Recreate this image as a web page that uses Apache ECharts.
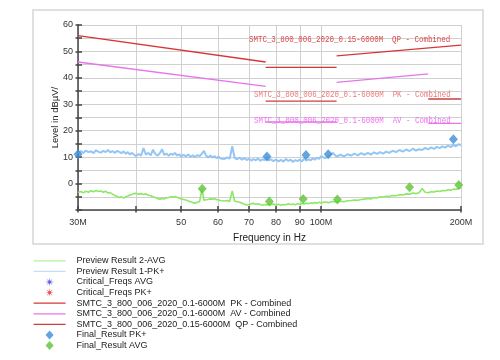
<!DOCTYPE html>
<html><head><meta charset="utf-8">
<script src="https://cdn.jsdelivr.net/npm/echarts@6/dist/echarts.min.js"></script>
<style>html,body{margin:0;padding:0;background:#fff}#c{width:500px;height:360px}</style>
</head><body><div id="c"></div>
<script>
// Sampling frequencies (MHz) of the preview scans
const freqs = [
30,30.4,30.8,31.2,31.6,32,32.4,32.8,33.2,33.6,34,34.4,34.8,35.2,35.6,36,36.4,36.8,37.2,37.6,38,38.4,38.8,39.2,39.6,
40,40.5,41,41.5,42,42.5,43,43.5,44,44.5,45,45.5,46,46.5,47,47.5,48,48.5,49,49.5,
50,50.6,51.2,51.8,52.4,53,53.6,54.2,54.8,55.4,56,56.6,57.2,57.8,58.4,59,59.6,60.2,60.8,61.4,
62,62.8,63.6,64.4,65.2,66,66.8,67.6,68.4,69.2,70,70.8,71.6,72.4,73.2,74,74.8,75.6,76.4,77.2,
78,79,80,81,82,83,84,85,86,87,88,89,90,91,92,93,94,95,96,97,98,99,
100,102,104,106,108,110,112,114,116,118,120,122,124,126,128,130,132,134,136,138,
140,142.5,145,147.5,150,152.5,155,157.5,160,162.5,165,167.5,170,172.5,175,177.5,180,182.5,185,187.5,190,192.5,195,197.5,200
];
// Preview Result 1-PK+ (dBµV/m)
const previewPK = [
11.4,12.3,11.6,12.5,11.9,12.2,11.5,12.6,12.0,11.7,12.4,11.9,12.7,11.8,12.3,11.6,12.4,12.0,11.5,12.2,11.3,11.9,11.0,11.6,10.9,
10.4,11.2,10.6,13.4,10.9,11.6,10.7,12.8,11.2,10.6,11.5,13.0,10.8,11.4,10.5,11.3,10.9,11.6,10.6,11.1,
10.2,10.9,10.3,11.0,10.1,10.7,10.0,10.8,10.4,11.3,12.4,10.5,9.9,10.6,9.8,10.4,9.6,10.2,9.5,10.1,
9.3,9.9,9.4,14.1,9.6,9.2,9.8,9.0,9.6,8.9,9.4,8.7,9.3,8.8,9.5,8.6,9.2,8.9,9.6,8.8,
9.2,8.5,9.1,8.4,9.0,8.3,9.3,8.6,9.0,8.2,8.9,8.5,9.1,8.4,9.4,8.7,9.2,8.8,9.6,9.0,9.8,9.3,
10.4,9.6,10.5,11.6,10.2,10.9,10.3,11.1,10.6,11.3,10.7,11.5,10.9,11.6,11.0,11.8,11.2,11.9,11.3,12.1,
11.6,12.4,11.9,12.7,12.1,12.9,12.3,13.2,12.5,13.0,12.7,13.5,12.9,13.7,13.1,13.9,13.4,14.1,13.6,14.4,13.8,14.6,14.1,14.9,14.5
];
// Preview Result 2-AVG (dBµV/m)
const previewAVG = [
-3.4,-3.0,-3.5,-2.9,-3.3,-2.7,-3.1,-2.6,-3.0,-2.8,-3.3,-2.9,-3.6,-3.4,-4.0,-4.5,-4.9,-5.3,-5.0,-5.5,-5.0,-4.7,-4.3,-4.1,-3.8,
-3.7,-4.0,-3.8,-4.1,-3.9,-4.4,-4.6,-5.0,-5.3,-5.7,-5.9,-5.6,-5.8,-5.4,-5.3,-5.0,-5.1,-4.9,-5.2,-5.5,
-5.7,-6.0,-6.2,-6.6,-6.9,-7.2,-7.4,-7.1,-6.8,-2.2,-6.3,-6.1,-6.0,-5.8,-5.9,-5.7,-6.0,-6.2,-6.4,-6.3,
-6.6,-6.4,-6.8,-2.8,-6.7,-6.9,-7.1,-7.4,-7.8,-8.1,-7.9,-7.6,-7.5,-7.8,-7.6,-7.9,-8.2,-7.9,-8.1,-7.8,
-8.0,-7.7,-8.1,-7.8,-8.2,-7.9,-8.0,-7.6,-7.9,-7.7,-8.0,-7.6,-7.8,-7.5,-7.7,-7.4,-7.6,-7.3,-7.5,-7.2,-7.4,-7.1,
-7.3,-7.0,-7.2,-6.8,-7.0,-6.7,-6.9,-6.5,-6.4,-6.2,-6.3,-6.0,-5.9,-5.6,-5.8,-5.3,-5.4,-5.0,-5.1,-4.8,
-4.9,-4.5,-4.6,-4.2,-4.3,-3.9,-4.0,-3.6,-3.8,-3.5,-1.9,-3.3,-3.5,-3.1,-3.2,-2.8,-3.0,-2.6,-2.7,-2.3,-2.5,-2.1,-2.2,-1.8,-1.7
];
// Limit line segments [[freq, level], [freq, level]]
const pkLimit = [[[30,56],[76,46]], [[76,44],[108,44]], [[108,48.3],[200,52.4]]];
const avLimit = [[[30,46],[76,36.8]], [[76,23.3],[108,23.3]], [[108,38.3],[170,41.5]], [[170,22.8],[200,22.8]]];
const qpLimit = [[[76,31.2],[108,31.2]], [[170,32],[200,32]]];
// Final results
const finalPK = [[30,11.1],[76.5,10.2],[92.8,10.8],[103.6,11.1],[192.6,16.8]];
const finalAVG = [[55.5,-2.0],[77.4,-6.8],[91.5,-5.8],[108.4,-6.0],[155,-1.4],[197.8,-0.5]];
// Axis ticks
const xTickValues = [30,40,50,60,70,80,90,100,200];
const xLabelValues = [30,50,60,70,80,90,100,200];
const xLabelNames = {30:'30M',100:'100M',200:'200M'};
const names = {
  avg: 'Preview Result 2-AVG', pk: 'Preview Result 1-PK+',
  cAvg: 'Critical_Freqs AVG', cPk: 'Critical_Freqs PK+',
  pkL: 'SMTC_3_800_006_2020_0.1-6000M  PK - Combined',
  avL: 'SMTC_3_800_006_2020_0.1-6000M  AV - Combined',
  qpL: 'SMTC_3_800_006_2020_0.15-6000M  QP - Combined',
  fPk: 'Final_Result PK+', fAvg: 'Final_Result AVG'
};

function segs(list){ const out=[]; list.forEach((s,i)=>{ if(i) out.push([s[0][0], null]); s.forEach(p=>out.push(p)); }); return out; }
function zipXY(xs, ys){ return xs.map((x,i)=>[x, ys[i]]); }

const star = 'path://M20 10 L12.31 10.96 L17.07 17.07 L10.96 12.31 L10 20 L9.04 12.31 L2.93 17.07 L7.69 10.96 L0 10 L7.69 9.04 L2.93 2.93 L9.04 7.69 L10 0 L10.96 7.69 L17.07 2.93 L12.31 9.04 Z';
const diamond = 'path://M4.5 0 L9 5 L4.5 10 L0 5 Z';
const font = 'Liberation Sans';
const chart = echarts.init(document.getElementById('c'), null, {renderer:'canvas'});
const axisCol = '#444';
const lineItem = (n, c) => ({name: n, itemStyle: {opacity: 0}, lineStyle: c ? {color: c} : undefined});
chart.setOption({
  animation: false,
  backgroundColor: '#fff',
  grid: {left: 78, right: 39, top: 25, bottom: 150, containLabel: false},
  xAxis: [{
    type: 'log', logBase: 10, min: 30, max: 200,
    name: 'Frequency in Hz', nameLocation: 'middle', nameGap: 23,
    nameTextStyle: {fontSize: 10, color: '#222', fontFamily: font},
    axisLine: {onZero: false, lineStyle: {color: axisCol, width: 1.5}},
    axisTick: {inside: true, length: 4, customValues: xTickValues, lineStyle: {color: axisCol, width: 1.5}},
    axisLabel: {customValues: xLabelValues, margin: 8, fontSize: 9, color: '#333', fontFamily: font,
      formatter: v => xLabelNames[v] || String(v)},
    splitLine: {show: true, lineStyle: {color: '#d0d0d0', width: 1}},
    minorTick: {show: false}
  }, {
    type: 'log', logBase: 10, min: 30, max: 200, position: 'bottom',
    axisLine: {show: false, onZero: false},
    axisTick: {inside: false, length: 2.5, customValues: xTickValues, lineStyle: {color: axisCol, width: 1.5}},
    axisLabel: {show: false}, splitLine: {show: false}
  }],
  yAxis: [{
    type: 'value', min: -10, max: 60, interval: 5,
    name: 'Level in dBµV/', nameLocation: 'middle', nameGap: 18, nameMoveOverlap: false,
    nameTextStyle: {fontSize: 9.5, color: '#222', fontFamily: font},
    axisLine: {show: true, onZero: false, lineStyle: {color: axisCol, width: 1.5}},
    axisTick: {inside: true, length: 4, lineStyle: {color: axisCol, width: 1.5}},
    axisLabel: {margin: 5, fontSize: 9, color: '#333', fontFamily: font,
      formatter: v => (v % 10 === 0 && v > -10) ? String(v) : ''},
    splitLine: {show: true, lineStyle: {color: '#d0d0d0', width: 1}}
  }, {
    type: 'value', min: -10, max: 60, interval: 5, position: 'left',
    axisLine: {show: false, onZero: false},
    axisTick: {show: true, inside: false, length: 2.5, lineStyle: {color: axisCol, width: 1.5}},
    axisLabel: {show: false}, splitLine: {show: false}
  }],
  legend: {
    orient: 'vertical', left: 33, top: 255.5, bottom: 0, padding: 0, itemWidth: 32, itemHeight: 9, itemGap: 0,
    textStyle: {fontSize: 9, fontFamily: font, color: '#222', lineHeight: 10.6, padding: [0,0,0,6]},
    lineStyle: {width: 1.2},
    data: [lineItem(names.avg, '#b4f0a0'), lineItem(names.pk, '#c6def5'), names.cAvg, names.cPk,
      lineItem(names.pkL), lineItem(names.avL), lineItem(names.qpL), names.fPk, names.fAvg]
  },
  graphic: [
    {type: 'rect', z: -10, shape: {x: 33, y: 10, width: 450, height: 234}, style: {fill: 'none', stroke: '#d6d6d6', lineWidth: 1.5}},
    {type: 'text', x: 249, y: 40, scaleX: 0.828, z: 50, style: {text: names.qpL, font: '9px "Liberation Mono"', fill: '#d84848', verticalAlign: 'middle'}},
    {type: 'text', x: 254, y: 95, scaleX: 0.828, z: 50, style: {text: names.pkL, font: '9px "Liberation Mono"', fill: '#ea7a7a', verticalAlign: 'middle'}},
    {type: 'text', x: 254, y: 121, scaleX: 0.828, z: 50, style: {text: names.avL, font: '9px "Liberation Mono"', fill: '#f070f0', verticalAlign: 'middle'}}
  ],
  series: [
    {name: names.avg, type: 'line', symbol: 'none', data: zipXY(freqs, previewAVG), lineStyle: {color: '#8ee868', width: 1.6}, itemStyle: {color: '#8ee868'}, z: 3},
    {name: names.pk, type: 'line', symbol: 'none', data: zipXY(freqs, previewPK), lineStyle: {color: '#94c6f4', width: 2}, itemStyle: {color: '#94c6f4'}, z: 3},
    {name: names.cAvg, type: 'scatter', symbol: star, symbolSize: 8, data: [], itemStyle: {color: '#2a2ad8'}},
    {name: names.cPk, type: 'scatter', symbol: star, symbolSize: 8, data: [], itemStyle: {color: '#e02020'}},
    {name: names.pkL, type: 'line', symbol: 'none', connectNulls: false, data: segs(pkLimit), lineStyle: {color: '#d83636', width: 1.3}, itemStyle: {color: '#d83636'}, z: 2},
    {name: names.avL, type: 'line', symbol: 'none', connectNulls: false, data: segs(avLimit), lineStyle: {color: '#e674ec', width: 1.3}, itemStyle: {color: '#e674ec'}, z: 2},
    {name: names.qpL, type: 'line', symbol: 'none', connectNulls: false, data: segs(qpLimit), lineStyle: {color: '#cc4040', width: 1.3}, itemStyle: {color: '#cc4040'}, z: 2},
    {name: names.fPk, type: 'scatter', symbol: diamond, symbolSize: [9, 10], clip: false, data: finalPK, itemStyle: {color: '#3c8fd8'}, z: 5},
    {name: names.fAvg, type: 'scatter', symbol: diamond, symbolSize: [9, 10], clip: false, data: finalAVG, itemStyle: {color: '#5cc436'}, z: 5}
  ]
});
</script>
</body></html>
